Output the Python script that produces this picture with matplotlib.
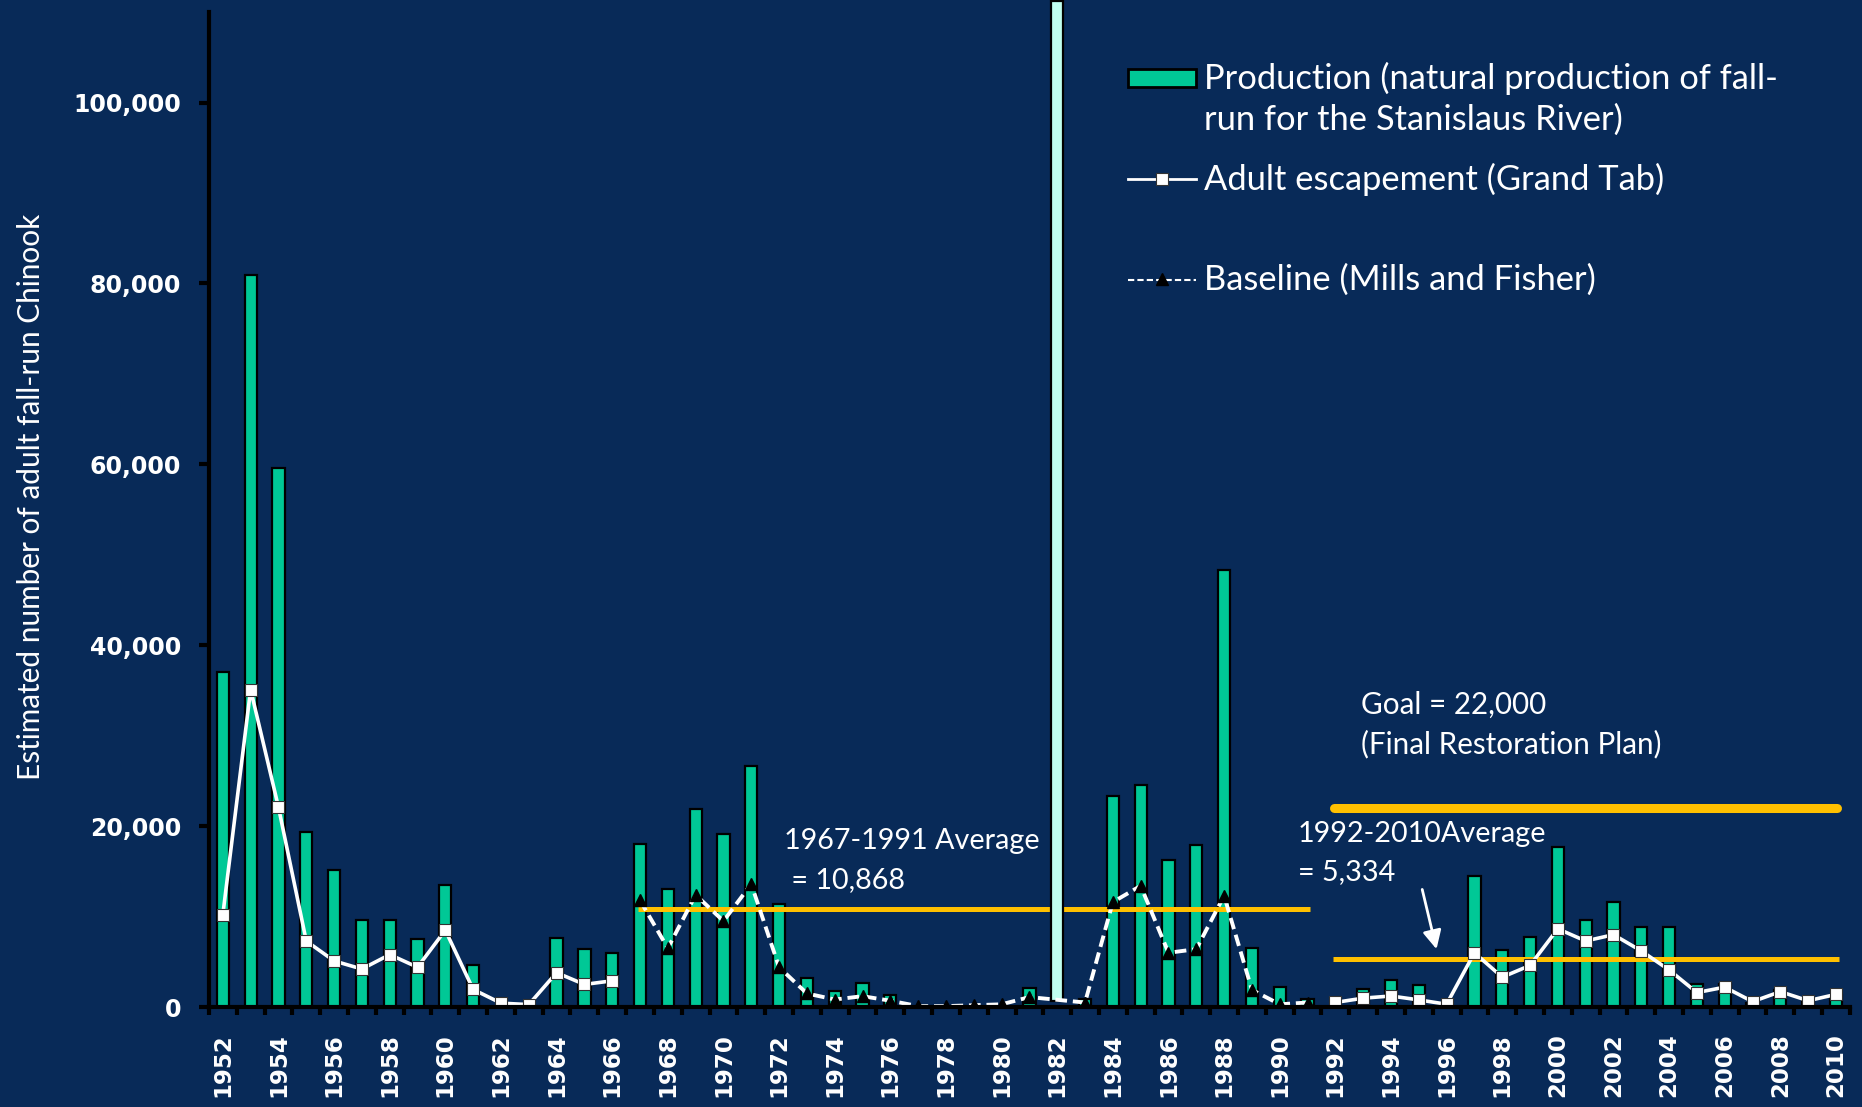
import numpy as np
import matplotlib.pyplot as plt
from matplotlib.lines import Line2D
from matplotlib.patches import Rectangle

plt.rcParams['font.family'] = ['Lato', 'DejaVu Sans']

years = list(range(1952, 2011))

# natural production (bars); 1982 shown as a separate highlighted bar
production = [37000, 80900, 59600, 19400, 15200, 9600, 9600, 7500, 13500, 4700,
              0, 0, 7600, 6400, 6000, 18000, 13000, 21900, 19100, 26600,
              11400, 3200, 1800, 2700, 1300, 0, 0, 0, 0, 2100,
              np.nan, 900, 23300, 24500, 16300, 17900, 48300, 6500, 2200, 900,
              0, 2000, 3000, 2400, 0, 14500, 6300, 7700, 17700, 9600,
              11600, 8800, 8800, 2600, 2600, 500, 1900, 700, 1300]

highlight_year = 1982
highlight_value = 110500

# adult escapement (Grand Tab)
esc_years_a = list(range(1952, 1967))
esc_a = [10200, 35100, 22100, 7300, 5100, 4200, 5800, 4400, 8500, 1950,
         430, 270, 3800, 2500, 2900]
esc_years_b = list(range(1992, 2011))
esc_b = [510, 980, 1220, 790, 310, 6000, 3300, 4600, 8650, 7300,
         8000, 6200, 4100, 1600, 2200, 600, 1700, 700, 1400]

# baseline (Mills and Fisher)
base_years = [1967, 1968, 1969, 1970, 1971, 1972, 1973, 1974, 1975, 1976,
              1977, 1978, 1979, 1980, 1981, 1983, 1984, 1985, 1986, 1987,
              1988, 1989, 1990, 1991]
baseline = [11800, 6500, 12400, 9500, 13600, 4400, 1500, 830, 1200, 700,
            100, 100, 200, 300, 1100, 500, 11600, 13400, 6000, 6400,
            12300, 1900, 300, 500]

avg_early = 10868
avg_late = 5334
goal = 22000

bg = '#082a58'
green = '#00c896'
gold = '#ffc000'

fig = plt.figure(figsize=(18.62, 11.07), dpi=100, facecolor=bg)
ax = fig.add_axes([0.1122, 0.0903, 0.8813, 0.8988], facecolor=bg)

x = np.arange(len(years))
def xi(y):
    return years.index(y)

ax.bar(x, production, width=0.44, color=green, edgecolor='black', linewidth=1.6, zorder=2)

# averages and goal
ax.plot([xi(1967) - 0.08, xi(1991) + 0.1], [avg_early, avg_early], color=gold, lw=3.6,
        solid_capstyle='butt', zorder=3)
ax.plot([xi(1992) - 0.1, xi(2010) + 0.1], [avg_late, avg_late], color=gold, lw=3.6,
        solid_capstyle='butt', zorder=3)
ax.plot([xi(1992) - 0.05, xi(2010) + 0.05], [goal, goal], color=gold, lw=6.5,
        solid_capstyle='round', zorder=3)

ax.bar(xi(highlight_year), highlight_value, bottom=700, width=0.44, color='#c0fff0',
       edgecolor='black', linewidth=1.6, zorder=4, clip_on=False)

# series
for yrs, vals in [(esc_years_a, esc_a), (esc_years_b, esc_b)]:
    ax.plot([xi(y) for y in yrs], vals, color='white', lw=2.6, marker='s', markersize=9,
            markerfacecolor='white', markeredgecolor='#333333', markeredgewidth=0.8, zorder=5)
ax.plot([xi(y) for y in base_years], baseline, color='white', lw=2.8, ls=(0, (3, 1.5)),
        marker='^', markersize=9, markerfacecolor='black', markeredgecolor='black', zorder=5)

ax.set_xlim(-0.5, len(years) - 0.5)
ax.set_ylim(0, 110000)

for s in ['top', 'right']:
    ax.spines[s].set_visible(False)
for s in ['left', 'bottom']:
    ax.spines[s].set_color('black')
    ax.spines[s].set_linewidth(3)
    ax.spines[s].set_zorder(6)

ax.set_yticks(range(0, 100001, 20000))
ax.set_yticklabels([f'{v:,}' for v in range(0, 100001, 20000)])
ax.tick_params(axis='y', colors='black', width=3, length=7, pad=13, labelcolor='white')
for lab in ax.get_yticklabels():
    lab.set_family('DejaVu Sans')
    lab.set_fontweight('heavy')
    lab.set_fontsize(17)

ax.set_xticks(x[::2])
ax.set_xticklabels([str(y) for y in years[::2]], rotation=90)
ax.set_xticks(np.arange(-0.5, len(years), 1.0), minor=True)
ax.tick_params(axis='x', which='major', length=0, pad=19, labelcolor='white')
ax.tick_params(axis='x', which='minor', length=6, width=3, color='black')
for lab in ax.get_xticklabels():
    lab.set_family('DejaVu Sans')
    lab.set_fontweight('heavy')
    lab.set_fontsize(16.5)

ax.set_ylabel('Estimated number of adult fall-run Chinook', color='white', fontsize=21.4)
ax.yaxis.set_label_coords(-0.1, 0.513)

# annotations
fs = 20.7
ax.text(20.17, 18350, '1967-1991 Average', color='white', fontsize=fs, va='center', zorder=7)
ax.text(20.17, 14030, ' = 10,868', color='white', fontsize=fs, va='center', zorder=7)
ax.text(40.92, 33430, 'Goal = 22,000', color='white', fontsize=21.3, va='center')
ax.text(40.92, 29100, '(Final Restoration Plan)', color='white', fontsize=21.3, va='center')
ax.text(38.65, 19140, '1992-2010Average', color='white', fontsize=fs, va='center')
ax.text(38.65, 14950, '= 5,334', color='white', fontsize=fs, va='center')
ax.annotate('', xy=(43.66, 6100), xytext=(43.1, 13300),
            arrowprops=dict(arrowstyle='-|>', color='white', lw=2, mutation_scale=28), zorder=6)

# legend
W, H = 1862.0, 1107.0
def fx(px):
    return px / W
def fy(py):
    return 1 - py / H

lfs = 24.8
fig.add_artist(Rectangle((fx(1128), fy(87)), fx(1196) - fx(1128), fy(69) - fy(87),
                         facecolor=green, edgecolor='black', lw=2, transform=fig.transFigure))
fig.text(fx(1204), fy(78), 'Production (natural production of fall-', color='white',
         fontsize=lfs, va='center')
fig.text(fx(1204), fy(120), 'run for the Stanislaus River)', color='white', fontsize=lfs, va='center')
fig.add_artist(Line2D([fx(1128), fx(1196)], [fy(179), fy(179)], color='white', lw=2,
                      transform=fig.transFigure))
fig.add_artist(Line2D([fx(1162)], [fy(179)], marker='s', markersize=8, markerfacecolor='white',
                      markeredgecolor='#333333', markeredgewidth=0.8, transform=fig.transFigure))
fig.text(fx(1204), fy(179), 'Adult escapement (Grand Tab)', color='white', fontsize=lfs, va='center')
fig.add_artist(Line2D([fx(1128), fx(1196)], [fy(280), fy(280)], color='white', lw=1.5,
                      ls=(0, (3, 1.5)), transform=fig.transFigure))
fig.add_artist(Line2D([fx(1162)], [fy(279)], marker='^', markersize=8, markerfacecolor='black',
                      markeredgecolor='black', transform=fig.transFigure))
fig.text(fx(1204), fy(280), 'Baseline (Mills and Fisher)', color='white', fontsize=lfs, va='center')

fig.savefig('out.png', dpi=100, facecolor=bg)
